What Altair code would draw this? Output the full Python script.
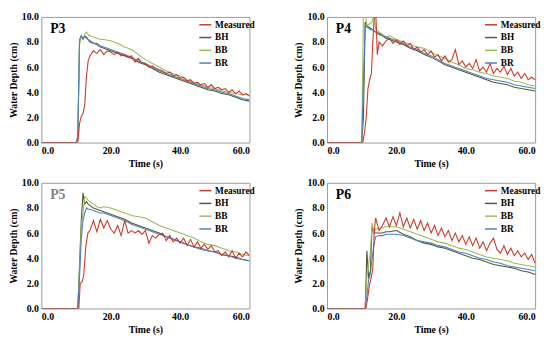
import altair as alt
import pandas as pd

SERIES = ["Measured", "BH", "BB", "BR"]
COLORS = ["#CC3A2A", "#4E5B31", "#9BBB59", "#4F81BD"]
X_TICKS = [0, 20, 40, 60]
Y_TICKS = [0, 2, 4, 6, 8, 10]

# shared time grid of the model series (s)
T_MODEL = [0, 10, 10.5, 11, 11.5, 12, 12.5, 13, 13.5, 14, 15, 16, 17, 18, 20, 22, 24,
           26, 28, 30, 32, 34, 36, 38, 40, 42, 44, 46, 48, 50, 52, 54, 56, 58, 60]
TAIL_14 = list(range(14, 61))
TAIL_15 = list(range(15, 61))

# ---- P3 ----
P3_BH = [0, 0, 0.3, 8.0, 8.5, 8.2, 8.5, 8.4, 8.2, 8.0, 7.9, 7.8, 7.6, 7.5, 7.3, 7.1, 6.9,
         6.7, 6.4, 6.2, 5.9, 5.6, 5.4, 5.2, 5.0, 4.8, 4.6, 4.4, 4.2, 4.1, 3.9, 3.8, 3.6, 3.4, 3.3]
P3_BB = [0, 0, 0.3, 7.8, 8.5, 8.3, 8.6, 8.8, 8.6, 8.5, 8.4, 8.3, 8.2, 8.2, 8.1, 7.9, 7.6,
         7.4, 7.0, 6.6, 6.3, 6.0, 5.7, 5.5, 5.3, 5.0, 4.8, 4.6, 4.4, 4.3, 4.1, 4.0, 3.9, 3.8, 3.8]
P3_BR = [0, 0, 0.5, 8.2, 8.5, 8.3, 8.4, 8.3, 8.2, 8.1, 7.9, 7.9, 7.7, 7.6, 7.4, 7.2, 7.0,
         6.8, 6.5, 6.3, 6.0, 5.7, 5.5, 5.3, 5.1, 4.9, 4.7, 4.5, 4.3, 4.2, 4.0, 3.9, 3.7, 3.5, 3.4]
P3_MEAS_T = [0, 10.5, 11, 11.5, 12, 12.5, 13, 13.5] + TAIL_14
P3_MEAS = [0, 0, 1.5, 2.1, 2.3, 3.0, 5.3, 6.5,
           6.9, 7.3, 7.1, 7.4, 7.0, 7.3, 7.2, 7.0, 7.2, 6.9,
           7.0, 6.8, 6.9, 6.4, 6.7, 6.3, 6.3, 6.0, 6.1, 5.9,
           5.8, 5.7, 5.5, 5.6, 5.3, 5.4, 5.1, 5.2, 4.9, 5.0,
           4.7, 4.8, 4.6, 4.7, 4.4, 4.6, 4.3, 4.4, 4.2, 4.3,
           4.0, 4.2, 3.9, 4.1, 3.8, 3.9, 3.7]

# ---- P4 ----
P4_BH = [0, 0, 2.0, 9.6, 9.3, 9.2, 9.1, 9.0, 8.9, 8.8, 8.6, 8.5, 8.3, 8.2, 8.0, 7.8, 7.5,
         7.3, 7.0, 6.8, 6.5, 6.2, 6.0, 5.8, 5.6, 5.4, 5.2, 5.0, 4.8, 4.7, 4.6, 4.4, 4.3, 4.2, 4.1]
P4_BB = [0, 0, 10.5, 10.5, 9.3, 9.4, 9.5, 9.6, 10.3, 9.0, 8.8, 8.6, 8.4, 8.5, 8.2, 8.0, 7.8,
         7.6, 7.5, 7.2, 6.9, 6.7, 6.4, 6.2, 5.9, 5.8, 5.6, 5.5, 5.3, 5.2, 5.1, 4.9, 4.8, 4.6, 4.5]
P4_BR = [0, 0, 5.0, 9.3, 9.2, 9.1, 9.0, 9.0, 8.9, 8.8, 8.7, 8.5, 8.4, 8.3, 8.1, 7.9, 7.6,
         7.4, 7.1, 6.9, 6.6, 6.3, 6.1, 5.9, 5.7, 5.5, 5.3, 5.1, 5.0, 4.9, 4.8, 4.6, 4.5, 4.4, 4.3]
P4_MEAS_T = [0, 10.3, 10.8, 11.3, 11.8, 12.3, 12.8, 13.2, 13.7, 14.0, 14.5] + TAIL_15
P4_MEAS = [0, 0, 0.8, 2.0, 4.3, 5.0, 5.5, 8.0, 10.5, 10.8, 7.0,
           8.0, 7.7, 8.1, 8.3, 7.9, 8.2, 7.8, 8.1, 7.7, 7.9,
           7.4, 7.6, 7.2, 7.4, 7.0, 7.3, 6.8, 7.0, 6.5, 6.9,
           6.4, 6.6, 7.4, 6.2, 6.5, 6.0, 6.3, 5.9, 6.6, 5.7,
           6.0, 5.6, 6.3, 5.5, 5.9, 5.6, 6.1, 5.4, 5.9, 5.3,
           5.6, 5.1, 5.5, 5.0, 5.2, 5.0]

# ---- P5 ----
P5_BH = [0, 0, 0, 3.5, 7.0, 9.2, 8.3, 8.5, 8.3, 8.2, 8.0, 7.9, 7.8, 7.7, 7.5, 7.3, 7.1,
         6.8, 6.6, 6.4, 6.2, 6.0, 5.7, 5.5, 5.3, 5.1, 4.9, 4.8, 4.6, 4.5, 4.3, 4.2, 4.1, 3.9, 3.8]
P5_BB = [0, 0, 0, 3.0, 6.5, 7.6, 8.9, 8.8, 8.6, 8.5, 8.3, 8.1, 8.0, 8.1, 8.0, 7.8, 7.6,
         7.4, 7.3, 7.2, 6.9, 6.6, 6.4, 6.2, 6.0, 5.8, 5.6, 5.3, 5.1, 5.0, 4.8, 4.6, 4.5, 4.3, 4.2]
P5_BR = [0, 0, 0, 2.5, 5.5, 7.0, 7.6, 8.0, 7.9, 7.9, 7.8, 7.7, 7.6, 7.6, 7.4, 7.2, 7.0,
         6.7, 6.5, 6.3, 6.1, 5.9, 5.7, 5.5, 5.3, 5.1, 4.9, 4.7, 4.6, 4.5, 4.3, 4.2, 4.0, 3.9, 3.8]
P5_MEAS_T = [0, 10.8, 11.2, 11.7, 12.2, 12.8, 13.4] + TAIL_14
P5_MEAS = [0, 0, 2.0, 2.1, 2.6, 4.9, 6.0,
           6.2, 7.0, 6.1, 7.1, 6.4, 7.0, 6.3, 6.0, 6.6, 5.8,
           7.0, 6.0, 6.2, 6.0, 6.2, 5.9, 6.2, 5.2, 5.8, 5.6,
           5.9, 6.0, 5.4, 5.8, 5.3, 5.6, 5.2, 5.6, 5.0, 5.5,
           4.9, 5.3, 4.8, 5.1, 4.7, 5.0, 4.5, 4.6, 4.2, 4.5,
           4.1, 4.6, 4.0, 4.4, 4.1, 4.5, 4.2]

# ---- P6 ----
P6_BH = [0, 0, 0, 0, 4.6, 2.4, 3.0, 6.6, 6.0, 6.0, 6.0, 6.0, 6.1, 6.1, 6.2, 5.9, 5.7,
         5.4, 5.2, 5.1, 4.9, 4.8, 4.6, 4.4, 4.2, 4.0, 3.9, 3.7, 3.5, 3.4, 3.3, 3.2, 3.0, 2.9, 2.7]
P6_BB = [0, 0, 0, 0, 2.5, 3.5, 4.5, 6.8, 6.1, 6.3, 6.4, 6.4, 6.5, 6.5, 6.5, 6.3, 6.1,
         5.9, 5.7, 5.5, 5.3, 5.2, 5.0, 4.8, 4.7, 4.5, 4.3, 4.1, 4.0, 3.9, 3.8, 3.6, 3.5, 3.4, 3.3]
P6_BR = [0, 0, 0, 0, 1.0, 2.3, 2.8, 4.0, 5.0, 5.7, 5.8, 5.8, 5.9, 5.9, 5.9, 5.8, 5.6,
         5.4, 5.3, 5.2, 5.0, 4.9, 4.7, 4.5, 4.4, 4.2, 4.0, 3.9, 3.7, 3.6, 3.4, 3.3, 3.2, 3.1, 3.0]
P6_MEAS_T = [0, 11.2, 11.7, 12.2, 12.7, 13.2, 13.6] + TAIL_14
P6_MEAS = [0, 0, 0.8, 1.8, 2.4, 3.2, 6.0,
           7.2, 6.2, 6.6, 7.2, 6.5, 7.3, 6.6, 7.6, 6.5, 7.2,
           6.4, 7.1, 6.3, 7.0, 6.2, 6.8, 6.0, 6.6, 5.8, 6.4,
           5.7, 6.2, 5.4, 6.0, 5.3, 5.8, 5.1, 5.7, 5.0, 5.6,
           4.8, 5.3, 4.6, 5.2, 5.6, 4.7, 4.4, 5.0, 4.3, 4.8,
           4.2, 4.6, 4.1, 4.4, 3.9, 4.3, 3.6]

FONT = "Liberation Serif"
W, H = 212, 128


def panel(name, meas_t, meas_v, bh, bb, br, label_color):
    model_rows = []
    for s, vals in (("BH", bh), ("BB", bb), ("BR", br)):
        model_rows += [{"t": t, "d": v, "s": s} for t, v in zip(T_MODEL, vals)]
    meas_rows = [{"t": t, "d": v, "s": "Measured"} for t, v in zip(meas_t, meas_v)]

    x = alt.X("t:Q", scale=alt.Scale(domain=[0, 60], nice=False),
              axis=alt.Axis(values=X_TICKS, format=".1f", title="Time (s)", grid=False))
    y = alt.Y("d:Q", scale=alt.Scale(domain=[0, 10], nice=False),
              axis=alt.Axis(values=Y_TICKS, format=".1f", title="Water Depth (cm)", grid=False))
    color = alt.Color("s:N", scale=alt.Scale(domain=SERIES, range=COLORS),
                      legend=alt.Legend(title=None, orient="none", legendX=W - 52,
                                        legendY=1,
                                        symbolType="stroke", symbolSize=150,
                                        symbolStrokeWidth=1.5, labelFont=FONT,
                                        labelFontWeight="bold", labelFontSize=9.5,
                                        labelColor="black", rowPadding=1, padding=0,
                                        labelOffset=3))
    models = alt.Chart(pd.DataFrame(model_rows)).mark_line(strokeWidth=1.1, clip=True).encode(
        x=x, y=y, color=color)
    meas = alt.Chart(pd.DataFrame(meas_rows)).mark_line(strokeWidth=1.1, clip=True).encode(
        x=x, y=y, color=color)
    lab = alt.Chart(pd.DataFrame({"l": [name]})).mark_text(
        font=FONT, fontWeight="bold", fontSize=14, align="left", baseline="middle",
        color=label_color).encode(x=alt.value(9), y=alt.value(12), text="l:N")
    return alt.layer(models, meas, lab).properties(width=W, height=H)


p3 = panel("P3", P3_MEAS_T, P3_MEAS, P3_BH, P3_BB, P3_BR, "black")
p4 = panel("P4", P4_MEAS_T, P4_MEAS, P4_BH, P4_BB, P4_BR, "black")
p5 = panel("P5", P5_MEAS_T, P5_MEAS, P5_BH, P5_BB, P5_BR, "#808080")
p6 = panel("P6", P6_MEAS_T, P6_MEAS, P6_BH, P6_BB, P6_BR, "black")

chart = alt.concat(p3, p4, p5, p6, columns=2, spacing={"row": 8, "column": 38}).resolve_scale(
    color="independent").resolve_legend(color="independent").configure_view(
    stroke="#9a9a9a", strokeWidth=1).configure_axis(
    labelFont=FONT, labelFontWeight="bold", labelFontSize=10, labelColor="black",
    titleFont=FONT, titleFontWeight="bold", titleFontSize=10, titleColor="black",
    domain=False, ticks=False, labelPadding=3, titlePadding=3).properties(
    padding={"left": 0, "top": 0, "right": 0, "bottom": 0})

chart.save("out.html", embed_options={"renderer": "svg", "actions": False})
